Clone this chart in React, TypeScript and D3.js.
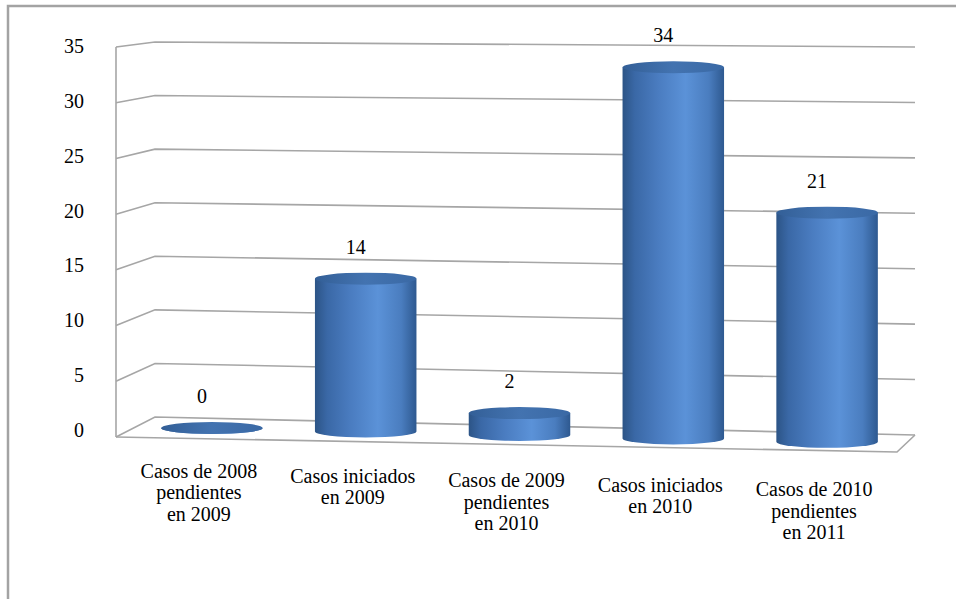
import React from "react";
import * as d3 from "d3";

const categories = [
  "Casos de 2008\npendientes\nen 2009",
  "Casos iniciados\nen 2009",
  "Casos de 2009\npendientes\nen 2010",
  "Casos iniciados\nen 2010",
  "Casos de 2010\npendientes\nen 2011",
];
const values = [0, 14, 2, 34, 21];
const yTicks = [0, 5, 10, 15, 20, 25, 30, 35];

const W = 956;
const H = 599;
const FONT = "Liberation Serif";
const FS = 20;

export default function App() {
  const x = d3.scaleBand<string>().domain(categories).range([135, 904]).paddingInner(0.34).paddingOuter(0.17);
  const yFrontLeft = d3.scaleLinear().domain([0, 35]).range([437, 47]);
  const yBackLeft = d3.scaleLinear().domain([0, 35]).range([417, 42]);
  const yRight = d3.scaleLinear().domain([0, 35]).range([435, 47]);
  const yLabel = d3.scaleLinear().domain([0, 35]).range([437, 53]);
  const barH = d3.scaleLinear().domain([0, 35]).range([0, 382]);
  const baseline = (cx: number) => 428 + (cx - 212) * 0.0225;

  const xFront = 116;
  const xBack = 155;
  const xRightEnd = 915;

  const bw = x.bandwidth();
  const rx = bw / 2;
  const ry = 6;

  const line = d3.line<[number, number]>();

  return (
    <svg width={W} height={H} style={{ position: "absolute", left: 0, top: 0 }}>
      <defs>
        <linearGradient id="cyl" x1="0" x2="1" y1="0" y2="0">
          <stop offset="0" stopColor="#2c5486" />
          <stop offset="0.12" stopColor="#3a68a6" />
          <stop offset="0.35" stopColor="#4a7cc0" />
          <stop offset="0.62" stopColor="#5b92d8" />
          <stop offset="0.85" stopColor="#4a7dbf" />
          <stop offset="1" stopColor="#2e5990" />
        </linearGradient>
        <linearGradient id="cyltop" x1="0" x2="1" y1="0" y2="0">
          <stop offset="0" stopColor="#335f97" />
          <stop offset="0.5" stopColor="#4373b0" />
          <stop offset="1" stopColor="#3a69a5" />
        </linearGradient>
      </defs>
      <rect x={8} y={6} width={W + 10} height={H + 10} fill="#fff" stroke="#a3a3a3" strokeWidth={2.5} />

      <g stroke="#a6a6a6" strokeWidth={1.6} fill="none">
        {yTicks.map((t) => (
          <path
            key={t}
            d={line([
              [xFront, yFrontLeft(t)],
              [xBack, yBackLeft(t)],
              [xRightEnd, yRight(t)],
            ]) || ""}
          />
        ))}
        <path d={line([[xFront, yFrontLeft(35)], [xFront, yFrontLeft(0)]]) || ""} />
        <path
          d={line([
            [xFront, yFrontLeft(0)],
            [897, 452],
            [xRightEnd, yRight(0)],
          ]) || ""}
        />
      </g>

      {yTicks.map((t) => (
        <text key={t} x={84} y={yLabel(t)} fontFamily={FONT} fontSize={FS} fill="#000" textAnchor="end">
          {t}
        </text>
      ))}

      {categories.map((c, i) => {
        const cx = (x(c) || 0) + bw / 2;
        const bot = baseline(cx);
        const top = bot - barH(values[i]);
        const body = `M${cx - rx},${top} L${cx - rx},${bot} A${rx},${ry} 0 0 0 ${cx + rx},${bot} L${cx + rx},${top} Z`;
        return (
          <g key={c}>
            <path d={body} fill="url(#cyl)" />
            <ellipse cx={cx} cy={top} rx={rx} ry={ry} fill="url(#cyltop)" />
            <text x={cx - 10} y={top - 25} textAnchor="middle" fontFamily={FONT} fontSize={FS} fill="#000">
              {values[i]}
            </text>
          </g>
        );
      })}

      {categories.map((c) => {
        const cx = (x(c) || 0) + bw / 2;
        const y0 = 478 + (cx - 212) * 0.03;
        return c.split("\n").map((ln, j) => (
          <text
            key={c + j}
            x={cx - 13}
            y={y0 + j * 21.5}
            fontFamily={FONT}
            fontSize={FS}
            fill="#000"
            textAnchor="middle"
          >
            {ln}
          </text>
        ));
      })}
    </svg>
  );
}
